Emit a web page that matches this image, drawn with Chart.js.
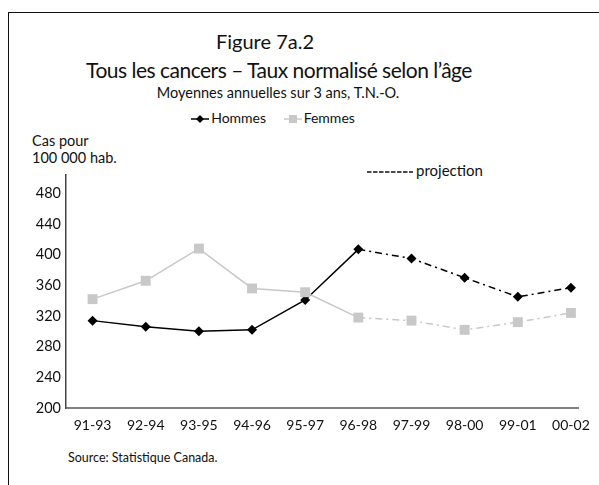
<!DOCTYPE html>
<html>
<head>
<meta charset="utf-8">
<script src="https://cdn.jsdelivr.net/npm/chart.js@4.4.0/dist/chart.umd.min.js"></script>
<style>
    html, body { margin: 0; padding: 0; width: 599px; height: 485px; overflow: hidden; background: #fff; }
    body { position: relative; font-family: Lato, "Open Sans", sans-serif; color: #111; }
    #frame { position: absolute; left: 8px; top: 12px; width: 700px; height: 600px; border: 1.5px solid #111; }
    .t { position: absolute; white-space: nowrap; line-height: 1; }
    #fig { left: 0; width: 530px; text-align: center; top: 31px; font-size: 20px; }
    #title { left: 0; width: 558px; text-align: center; top: 59px; font-size: 21px; letter-spacing: -0.5px; }
    #sub { left: 0; width: 556px; text-align: center; top: 86px; font-size: 14.5px; }
    #legend { left: 0; width: 546px; text-align: center; top: 111px; font-size: 14px; }
    #legend .k { display: inline-block; vertical-align: middle; margin-right: 2px; }
    #legend .item { margin: 0 7px; }
    #ytitle { left: 32px; top: 132px; font-size: 14.5px; line-height: 17px; }
    #proj { left: 367px; top: 163px; font-size: 15px; }
    #proj svg { vertical-align: middle; margin-right: 3px; }
    #source { left: 68px; top: 452px; font-size: 12.5px; }
    #c { position: absolute; left: 0; top: 0; }
</style>
</head>
<body>
<div id="frame"></div>
<div class="t" id="fig">Figure 7a.2</div>
<div class="t" id="title">Tous les cancers – Taux normalisé selon l’âge</div>
<div class="t" id="sub">Moyennes annuelles sur 3 ans, T.N.-O.</div>
<div class="t" id="legend">
    <span class="item"><svg class="k" width="18" height="10"><line x1="0" y1="5" x2="18" y2="5" stroke="#000" stroke-width="1.5"/><polygon points="9,1 13,5 9,9 5,5" fill="#000"/></svg>Hommes</span>
    <span class="item"><svg class="k" width="18" height="10"><line x1="0" y1="5" x2="18" y2="5" stroke="#c8c8c8" stroke-width="1.5"/><rect x="5" y="1" width="8" height="8" fill="#c8c8c8"/></svg>Femmes</span>
</div>
<div class="t" id="ytitle">Cas pour<br>100 000 hab.</div>
<div class="t" id="proj"><svg width="46" height="4"><line x1="0" y1="2" x2="46" y2="2" stroke="#111" stroke-width="1.4" stroke-dasharray="4.5,1.5"/></svg>projection</div>
<div class="t" id="source">Source: Statistique Canada.</div>
<canvas id="c" width="599" height="485"></canvas>
<script>
    const categories = ['91-93', '92-94', '93-95', '94-96', '95-97', '96-98', '97-99', '98-00', '99-01', '00-02'];
    const hommes = [314, 306, 300, 302, 341, 407, 395, 370, 345, 357];
    const femmes = [342, 366, 408, 356, 351, 318, 314, 302, 312, 324];
    const yTicks = [200, 240, 280, 320, 360, 400, 440, 480];
    const projectionStart = 5; // from 96-98 on, values are projected

    const toPoints = arr => arr.map((v, i) => ({ x: i, y: v }));
    const projDash = ctx => ctx.p0DataIndex >= projectionStart ? [7, 4, 2, 4] : undefined;

    const ctx = document.getElementById('c').getContext('2d');
    new Chart(ctx, {
        type: 'line',
        data: {
            datasets: [{
                label: 'Femmes',
                data: toPoints(femmes),
                borderColor: '#c8c8c8',
                backgroundColor: '#c8c8c8',
                borderWidth: 1.5,
                pointStyle: 'rect',
                pointRadius: 7,
                pointBorderWidth: 0,
                segment: { borderDash: projDash }
            }, {
                label: 'Hommes',
                data: toPoints(hommes),
                borderColor: '#000',
                backgroundColor: '#000',
                borderWidth: 1.5,
                pointStyle: 'rectRot',
                pointRadius: 5,
                pointBorderWidth: 0,
                segment: { borderDash: projDash }
            }]
        },
        options: {
            responsive: false,
            animation: false,
            layout: { padding: { top: 175, left: 0, right: 14, bottom: 47 } },
            plugins: { legend: { display: false }, tooltip: { enabled: false } },
            scales: {
                x: {
                    type: 'linear',
                    min: -0.5,
                    max: 9.15,
                    grid: { display: false, drawTicks: false },
                    border: { color: '#808080', width: 2 },
                    afterBuildTicks: s => { s.ticks = categories.map((_, i) => ({ value: i })); },
                    afterFit: s => { s.height = 30; },
                    ticks: {
                        padding: 9,
                        color: '#111',
                        font: { family: 'Lato', size: 14 },
                        maxRotation: 0,
                        autoSkip: false,
                        callback: v => categories[v]
                    }
                },
                y: {
                    min: 200,
                    max: 504,
                    grid: { display: false, drawTicks: false },
                    border: { color: '#444', width: 1.5 },
                    afterBuildTicks: s => { s.ticks = yTicks.map(v => ({ value: v })); },
                    afterFit: s => { s.width = 66; },
                    ticks: {
                        padding: 5,
                        color: '#111',
                        font: { family: 'Lato', size: 14.5 }
                    }
                }
            }
        }
    });
</script>
</body>
</html>
